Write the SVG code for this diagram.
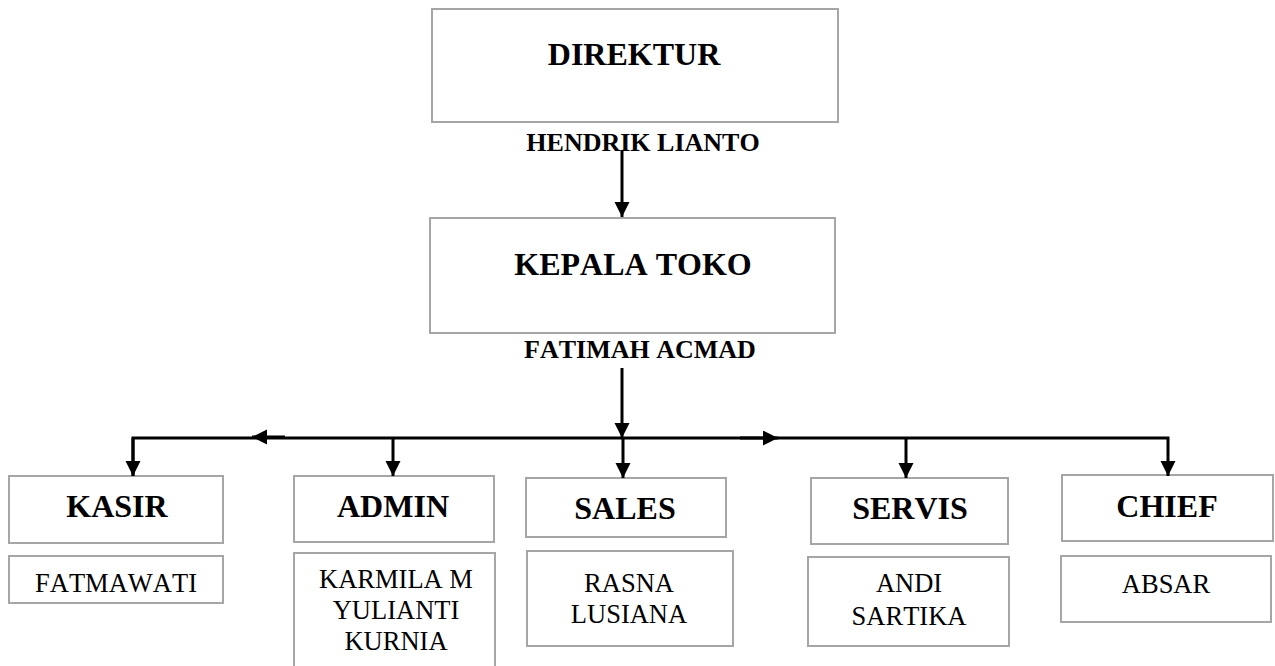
<svg xmlns="http://www.w3.org/2000/svg" width="1275" height="666" viewBox="0 0 1275 666">
<style>
text{font-family:"Liberation Serif","Times New Roman",serif;text-anchor:middle;fill:#000;font-kerning:none}
.box{fill:#fff;stroke:#a6a6a6;stroke-width:2}
.t{font-weight:bold;font-size:32px}
.n{font-weight:bold;font-size:26px}
.r{font-size:26.5px}
.c{fill:none;stroke:#000;stroke-width:3}
</style>
<defs>
<marker id="ah" markerUnits="userSpaceOnUse" markerWidth="16" markerHeight="16" refX="15" refY="7.5" orient="auto">
<path d="M0,0 L15,7.5 L0,15 z" fill="#000"/>
</marker>
</defs>
<rect width="1275" height="666" fill="#fff"/>
<g id="direktur">
<rect class="box" x="432" y="9" width="406" height="113"/>
<text class="t" x="634" y="65">DIREKTUR</text>
<text class="n" x="643" y="151">HENDRIK LIANTO</text>
</g>
<g id="kepala-toko">
<rect class="box" x="430" y="218" width="405" height="115"/>
<text class="t" x="633" y="275">KEPALA TOKO</text>
<text class="n" x="640" y="358">FATIMAH ACMAD</text>
</g>
<g id="kasir">
<rect class="box" x="9" y="476" width="214" height="67"/>
<text class="t" x="117" y="517">KASIR</text>
<rect class="box" x="9" y="556" width="214" height="47"/>
<text class="r" x="116" y="592">FATMAWATI</text>
</g>
<g id="admin">
<rect class="box" x="294" y="476" width="200" height="66"/>
<text class="t" x="393" y="517">ADMIN</text>
<rect class="box" x="294" y="553" width="201" height="120"/>
<text class="r" x="396" y="588">KARMILA M</text>
<text class="r" x="396" y="619">YULIANTI</text>
<text class="r" x="396" y="650">KURNIA</text>
</g>
<g id="sales">
<rect class="box" x="526" y="478" width="200" height="59"/>
<text class="t" x="625" y="519">SALES</text>
<rect class="box" x="527" y="551" width="206" height="95"/>
<text class="r" x="629" y="592">RASNA</text>
<text class="r" x="629" y="623">LUSIANA</text>
</g>
<g id="servis">
<rect class="box" x="811" y="478" width="197" height="66"/>
<text class="t" x="910" y="519">SERVIS</text>
<rect class="box" x="808" y="557" width="201" height="89"/>
<text class="r" x="909" y="592">ANDI</text>
<text class="r" x="909" y="625">SARTIKA</text>
</g>
<g id="chief">
<rect class="box" x="1062" y="475" width="211" height="66"/>
<text class="t" x="1167" y="517">CHIEF</text>
<rect class="box" x="1061" y="556" width="210" height="66"/>
<text class="r" x="1166" y="593">ABSAR</text>
</g>
<g id="connectors">
<line class="c" x1="622" y1="150" x2="622" y2="217" marker-end="url(#ah)"/>
<line class="c" x1="622" y1="368" x2="622" y2="438" marker-end="url(#ah)"/>
<polyline class="c" points="133,476 133,438 1168,438 1168,476" marker-end="url(#ah)"/>
<line class="c" x1="133" y1="438" x2="133" y2="476" marker-end="url(#ah)"/>
<line class="c" x1="393" y1="438" x2="393" y2="476" marker-end="url(#ah)"/>
<line class="c" x1="623" y1="438" x2="623" y2="478" marker-end="url(#ah)"/>
<line class="c" x1="906" y1="438" x2="906" y2="478" marker-end="url(#ah)"/>
<line class="c" x1="285" y1="437" x2="252" y2="437" marker-end="url(#ah)"/>
<line class="c" x1="740" y1="438" x2="778" y2="438" marker-end="url(#ah)"/>
</g>
</svg>
